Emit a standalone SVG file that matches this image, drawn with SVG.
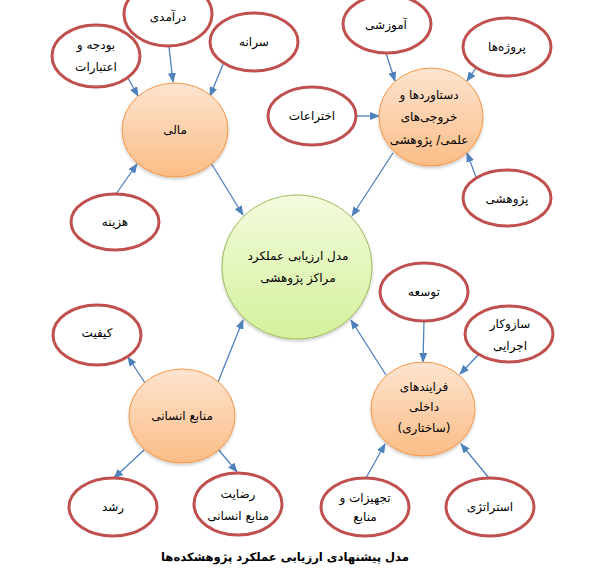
<svg xmlns="http://www.w3.org/2000/svg" width="601" height="577" viewBox="0 0 601 577">
<style>
.leaf{fill:#ffffff;stroke:#c0504d;stroke-width:3}
.hub{fill:url(#gOr);stroke:#f79646;stroke-width:1}
.core{fill:url(#gGr);stroke:#9bbb59;stroke-width:1}
.t{font-family:"DejaVu Sans",sans-serif;font-size:12px;fill:#000;text-anchor:middle;direction:rtl}
.cap{font-family:"DejaVu Sans",sans-serif;font-size:11.6px;font-weight:bold;fill:#000;text-anchor:middle;direction:rtl}
.c line{stroke:#4f81bd;stroke-width:1.3;marker-end:url(#ah)}
</style>
<defs>
<linearGradient id="gOr" x1="0" y1="0" x2="0" y2="1">
<stop offset="0" stop-color="#fde4d0"/>
<stop offset="1" stop-color="#fbbd86"/>
</linearGradient>
<linearGradient id="gGr" x1="0" y1="0" x2="0" y2="1">
<stop offset="0" stop-color="#f3fbdd"/>
<stop offset="1" stop-color="#d4f19c"/>
</linearGradient>
<marker id="ah" markerWidth="10" markerHeight="8" refX="9" refY="4" orient="auto" markerUnits="userSpaceOnUse">
<path d="M0,0 L10,4 L0,8 Z" fill="#4f81bd"/>
</marker>
<filter id="sh" x="-20%" y="-20%" width="140%" height="150%">
<feDropShadow dx="0" dy="2" stdDeviation="1.5" flood-color="#000" flood-opacity="0.2"/>
</filter>
</defs>
<rect width="601" height="577" fill="#ffffff"/>

<g class="c" id="connectors">
<line x1="128" y1="78" x2="138" y2="96"/>
<line x1="169" y1="47" x2="173" y2="82"/>
<line x1="224" y1="62" x2="210" y2="96"/>
<line x1="116" y1="194" x2="137" y2="164"/>
<line x1="211" y1="163" x2="243" y2="215"/>
<line x1="386" y1="53" x2="395" y2="81"/>
<line x1="476" y1="68" x2="467" y2="81"/>
<line x1="357" y1="116" x2="379" y2="116"/>
<line x1="476" y1="177" x2="467" y2="153"/>
<line x1="393" y1="153" x2="352" y2="216"/>
<line x1="145" y1="383" x2="128" y2="357"/>
<line x1="218" y1="382" x2="243" y2="320"/>
<line x1="144" y1="450" x2="114" y2="478"/>
<line x1="218" y1="449" x2="237" y2="472"/>
<line x1="424" y1="321" x2="423" y2="362"/>
<line x1="479" y1="354" x2="460" y2="374"/>
<line x1="386" y1="375" x2="351" y2="320"/>
<line x1="366" y1="478" x2="385" y2="444"/>
<line x1="489" y1="478" x2="461" y2="444"/>
</g>

<g id="center">
<ellipse class="core" cx="297" cy="267" rx="75" ry="72" filter="url(#sh)"/>
<text class="t" x="298" y="260">مدل ارزیابی عملکرد</text>
<text class="t" x="298" y="282">مراکز پژوهشی</text>
</g>

<g id="mali">
<ellipse class="hub" cx="175" cy="130" rx="53" ry="47" filter="url(#sh)"/>
<text class="t" x="175" y="134">مالی</text>
</g>
<g id="budget">
<ellipse class="leaf" cx="96" cy="56" rx="44" ry="31"/>
<text class="t" x="96" y="49">بودجه و</text>
<text class="t" x="96" y="71">اعتبارات</text>
</g>
<g id="income">
<ellipse class="leaf" cx="168" cy="14" rx="44" ry="32"/>
<text class="t" x="168" y="21">درآمدی</text>
</g>
<g id="percapita">
<ellipse class="leaf" cx="254" cy="42" rx="44" ry="29"/>
<text class="t" x="254" y="46">سرانه</text>
</g>
<g id="cost">
<ellipse class="leaf" cx="115" cy="222" rx="44" ry="28"/>
<text class="t" x="115" y="226">هزینه</text>
</g>

<g id="outputs">
<ellipse class="hub" cx="431" cy="117" rx="52" ry="49" filter="url(#sh)"/>
<text class="t" x="429" y="99">دستاوردها و</text>
<text class="t" x="429" y="121">خروجی‌های</text>
<text class="t" x="429" y="144">علمی/ پژوهشی</text>
</g>
<g id="education">
<ellipse class="leaf" cx="387" cy="24" rx="44" ry="29"/>
<text class="t" x="386" y="29">آموزشی</text>
</g>
<g id="projects">
<ellipse class="leaf" cx="507" cy="47" rx="44" ry="29"/>
<text class="t" x="507" y="51">پروژه‌ها</text>
</g>
<g id="inventions">
<ellipse class="leaf" cx="312" cy="116" rx="44" ry="29"/>
<text class="t" x="312" y="120">اختراعات</text>
</g>
<g id="research">
<ellipse class="leaf" cx="507" cy="198" rx="44" ry="28"/>
<text class="t" x="507" y="203">پژوهشی</text>
</g>

<g id="hr">
<ellipse class="hub" cx="182" cy="416" rx="53" ry="47" filter="url(#sh)"/>
<text class="t" x="182" y="420">منابع انسانی</text>
</g>
<g id="quality">
<ellipse class="leaf" cx="97" cy="335" rx="44" ry="30"/>
<text class="t" x="97" y="337">کیفیت</text>
</g>
<g id="growth">
<ellipse class="leaf" cx="113" cy="507" rx="44" ry="29"/>
<text class="t" x="113" y="511">رشد</text>
</g>
<g id="satisfaction">
<ellipse class="leaf" cx="238" cy="504" rx="44" ry="31"/>
<text class="t" x="238" y="498">رضایت</text>
<text class="t" x="238" y="520">منابع انسانی</text>
</g>

<g id="processes">
<ellipse class="hub" cx="423" cy="409" rx="52" ry="47" filter="url(#sh)"/>
<text class="t" x="424" y="391">فرایندهای</text>
<text class="t" x="424" y="411">داخلی</text>
<text class="t" x="424" y="432">(ساختاری)</text>
</g>
<g id="development">
<ellipse class="leaf" cx="424" cy="292" rx="44" ry="29"/>
<text class="t" x="424" y="296">توسعه</text>
</g>
<g id="mechanism">
<ellipse class="leaf" cx="509" cy="334" rx="44" ry="28"/>
<text class="t" x="510" y="328">سازوکار</text>
<text class="t" x="510" y="350">اجرایی</text>
</g>
<g id="equipment">
<ellipse class="leaf" cx="365" cy="507" rx="44" ry="29"/>
<text class="t" x="365" y="502">تجهیزات و</text>
<text class="t" x="365" y="521">منابع</text>
</g>
<g id="strategy">
<ellipse class="leaf" cx="490" cy="507" rx="44" ry="29"/>
<text class="t" x="490" y="511">استراتژی</text>
</g>

<text class="cap" x="285" y="561">مدل پیشنهادی ارزیابی عملکرد پژوهشکده‌ها</text>
</svg>
